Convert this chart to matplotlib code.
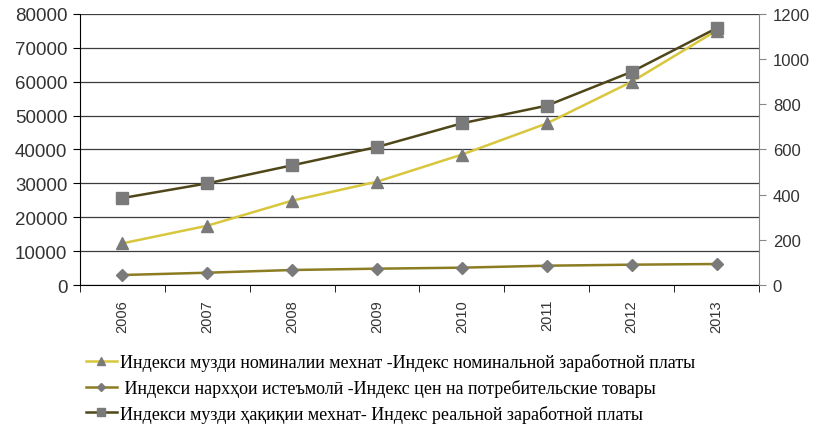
import numpy as np
import matplotlib
matplotlib.use('Agg')
import matplotlib.pyplot as plt
from matplotlib.lines import Line2D

# data
years = ['2006', '2007', '2008', '2009', '2010', '2011', '2012', '2013']
nominal = [12300, 17500, 24900, 30500, 38500, 47700, 60000, 75100]   # left axis
cpi = [2950, 3630, 4430, 4820, 5120, 5700, 6000, 6200]               # left axis
real = [385, 450, 530, 611, 716, 794, 944, 1137]                      # right axis

labels = [
    'Индекси музди номиналии мехнат -Индекс номинальной заработной платы',
    ' Индекси нархҳои истеъмолӣ -Индекс цен на потребительские товары',
    'Индекси музди ҳақиқии мехнат- Индекс реальной заработной платы',
]

c_nom = '#d8c63c'
c_cpi = '#8c7c22'
c_real = '#4f4719'
c_mark = '#7a7a7a'

plt.rcParams['font.family'] = ['Liberation Sans', 'DejaVu Sans']

fig = plt.figure(figsize=(8.23, 4.27), dpi=100)
ax = fig.add_axes([0.0972, 0.3302, 0.825, 0.6347])
ax2 = ax.twinx()

x = np.arange(len(years))

ax.plot(x, nominal, color=c_nom, lw=1.8, marker='^', ms=9,
        mfc=c_mark, mec=c_mark, zorder=3)
ax.plot(x, cpi, color=c_cpi, lw=1.8, marker='D', ms=6.5,
        mfc=c_mark, mec=c_mark, zorder=3)
ax2.plot(x, real, color=c_real, lw=1.8, marker='s', ms=8.5,
         mfc=c_mark, mec=c_mark, zorder=3)

ax.set_xlim(-0.5, len(years) - 0.5)
ax.set_ylim(0, 80000)
ax.set_yticks(np.arange(0, 80001, 10000))
ax2.set_ylim(0, 1200)
ax2.set_yticks(np.arange(0, 1201, 200))

ax.yaxis.grid(True, color='#3c3c3c', lw=0.9)
ax.set_axisbelow(True)

# category ticks between labels
ax.set_xticks(x)
ax.set_xticklabels(years, rotation=90, fontsize=10.5, color='#333333')
ax.set_xticks(np.arange(-0.5, len(years)), minor=True)
ax.tick_params(axis='x', which='major', length=0, pad=10)
ax.tick_params(axis='x', which='minor', length=5, direction='out', color='black')
ax.tick_params(axis='y', length=5, direction='out', color='black',
               labelsize=13.5, labelcolor='#333333', pad=4)
ax2.tick_params(axis='y', length=5, direction='out', color='#888888',
                labelsize=12, labelcolor='#333333', pad=5)

for s in ['top']:
    ax.spines[s].set_visible(False)
    ax2.spines[s].set_visible(False)
ax.spines['left'].set_color('black')
ax.spines['bottom'].set_color('black')
ax2.spines['left'].set_visible(False)
ax2.spines['bottom'].set_visible(False)
ax2.spines['right'].set_color('#888888')
ax.spines['right'].set_visible(False)

handles = [
    Line2D([], [], color=c_nom, lw=1.8, marker='^', ms=6, mfc=c_mark, mec=c_mark),
    Line2D([], [], color=c_cpi, lw=1.8, marker='D', ms=4.5, mfc=c_mark, mec=c_mark),
    Line2D([], [], color=c_real, lw=1.8, marker='s', ms=6, mfc=c_mark, mec=c_mark),
]
fig.legend(handles, labels, loc='upper left', bbox_to_anchor=(0.104, 0.17),
           frameon=False, handlelength=1.75, handletextpad=0.15, labelspacing=0.42,
           borderaxespad=0, borderpad=0,
           prop={'family': ['Liberation Serif', 'DejaVu Serif'], 'size': 13})

fig.savefig('out.png', dpi=100)
